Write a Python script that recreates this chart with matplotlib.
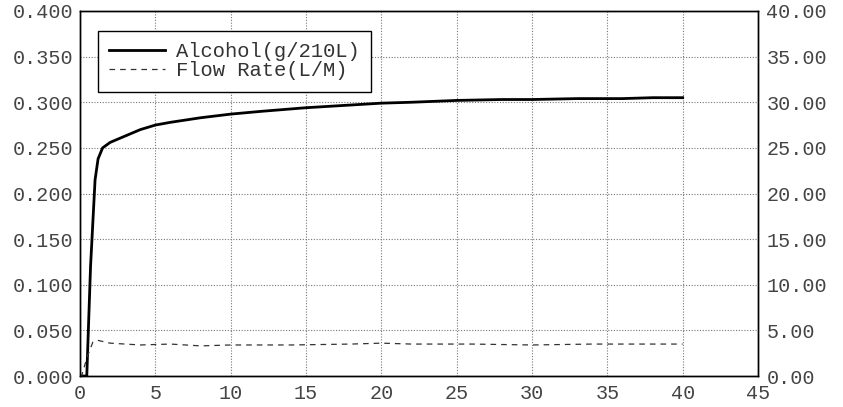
import matplotlib
matplotlib.use("Agg")
import matplotlib.pyplot as plt
from matplotlib.ticker import FormatStrFormatter

# Data
time = [0, 0.45, 0.7, 1.0, 1.2, 1.5, 2, 3, 4, 5, 6, 8, 10, 12, 15, 18, 20, 22,
        25, 28, 30, 33, 36, 38, 40]
alcohol = [0, 0, 0.12, 0.215, 0.238, 0.250, 0.256, 0.263, 0.270, 0.275, 0.278,
           0.283, 0.287, 0.290, 0.294, 0.297, 0.299, 0.300, 0.302, 0.303, 0.303,
           0.304, 0.304, 0.305, 0.305]

flow_time = [0, 0.1, 0.5, 0.85, 1.2, 2, 4, 6, 8, 10, 14, 18, 20, 22, 26, 30,
             34, 38, 40]
flow = [0, 0, 2.2, 3.7, 3.9, 3.6, 3.4, 3.5, 3.3, 3.4, 3.4, 3.5, 3.6, 3.5, 3.5,
        3.4, 3.5, 3.5, 3.5]

x_ticks = list(range(0, 50, 5))
left_ticks = [0.0, 0.05, 0.1, 0.15, 0.2, 0.25, 0.3, 0.35, 0.4]
right_ticks = [0, 5, 10, 15, 20, 25, 30, 35, 40]

plt.rcParams['font.family'] = ['Liberation Mono', 'DejaVu Sans Mono']

fig = plt.figure(figsize=(8.43, 4.07), dpi=100)
ax = fig.add_axes([80 / 843, 31 / 407, 678 / 843, 365 / 407])
ax2 = ax.twinx()

la, = ax.plot(time, alcohol, color='black', lw=2.0, label='Alcohol(g/210L)')
lf, = ax2.plot(flow_time, flow, color='#333333', lw=0.9, ls=(0, (4.5, 4)),
               label='Flow Rate(L/M)')

ax.set_xlim(0, 45)
ax.set_ylim(0, 0.4)
ax2.set_ylim(0, 40)
ax.set_xticks(x_ticks)
ax.set_yticks(left_ticks)
ax2.set_yticks(right_ticks)
ax.yaxis.set_major_formatter(FormatStrFormatter('%.3f'))
ax2.yaxis.set_major_formatter(FormatStrFormatter('%.2f'))

ax.grid(True, color='#777777', ls=(0, (1, 1.5)), lw=0.8)
ax.tick_params(axis='x', length=0, labelsize=14.5, colors='#444444', pad=6)
ax.tick_params(axis='y', length=0, labelsize=14.5, colors='#444444', pad=5)
ax2.tick_params(length=0, labelsize=14.5, colors='#444444', pad=6)
for a in (ax, ax2):
    for s in a.spines.values():
        s.set_color('black')
        s.set_linewidth(1.0)

leg = ax.legend(handles=[la, lf], loc='upper left', bbox_to_anchor=(0.0265, 0.945),
                fontsize=14.8, frameon=True, fancybox=False, framealpha=1,
                edgecolor='black', handlelength=2.7, borderpad=0.55,
                labelspacing=0.0, handletextpad=0.55, borderaxespad=0)
leg.get_frame().set_linewidth(1.0)
for t in leg.get_texts():
    t.set_color('#333333')

fig.savefig('out.png', dpi=100)
